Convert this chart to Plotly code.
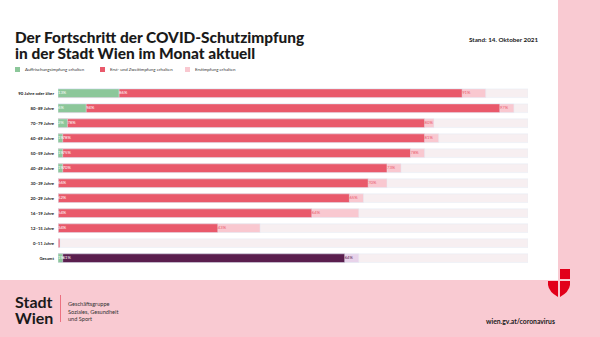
import plotly.graph_objects as go

categories = ["90 Jahre oder älter", "80–89 Jahre", "70–79 Jahre", "60–69 Jahre", "50–59 Jahre",
              "40–49 Jahre", "30–39 Jahre", "20–29 Jahre", "16–19 Jahre", "12–15 Jahre",
              "0–11 Jahre", "Gesamt"]
booster = [13, 6, 2, 1, 1, 1, 0, 0, 0, 0, 0, 1]
full = [86, 94, 78, 78, 75, 70, 66, 62, 54, 34, 0.4, 61]
first = [91, 97, 80, 81, 78, 73, 70, 65, 64, 43, 0.4, 64]
track = [100] * len(categories)

W, H = 600, 337
def px(x): return x / W
def py(y): return 1 - y / H

GREEN = "#8cc79a"
RED = "#e9596b"
PINK = "#f9c8d0"
TRACK = "#f7eff1"
PURPLE = "#5a1e4e"
LPURPLE = "#e8d3ea"
BAND = "#f9cad2"

is_total = [c == "Gesamt" for c in categories]

fig = go.Figure()
bw = 0.58
fig.add_bar(y=categories, x=track, orientation="h", marker_color=TRACK, width=bw,
            hoverinfo="skip", showlegend=False)
fig.add_bar(y=categories, x=first, orientation="h",
            marker_color=[LPURPLE if t else PINK for t in is_total], width=bw, showlegend=False)
fig.add_bar(y=categories, x=full, orientation="h",
            marker_color=[PURPLE if t else RED for t in is_total], width=bw, showlegend=False)
fig.add_bar(y=categories, x=booster, orientation="h", marker_color=GREEN, width=bw, showlegend=False)

lab_font = dict(family="Lato", size=4.2, color="white")
gy = [c for c, b in zip(categories, booster) if b > 0]
fig.add_scatter(y=gy, x=[0] * len(gy), mode="text", text=[f"{b}%" for b in booster if b > 0],
                textposition="middle right", textfont=lab_font, showlegend=False, cliponaxis=False)
fy = [c for c, f in zip(categories, full) if f >= 1]
fx = [b for b, f in zip(booster, full) if f >= 1]
fig.add_scatter(y=fy, x=fx, mode="text", text=[f"{f}%" for f in full if f >= 1],
                textposition="middle right", textfont=lab_font, showlegend=False, cliponaxis=False)
ey = [c for c, f in zip(categories, full) if f >= 1]
ex = [f for f in full if f >= 1]
et = [f"{v}%" for v, f in zip(first, full) if f >= 1]
ec = [PURPLE if c == "Gesamt" else RED for c in ey]
fig.add_scatter(y=ey, x=ex, mode="text", text=et, textposition="middle right",
                textfont=dict(family="Lato", size=4.2, color=ec), showlegend=False, cliponaxis=False)

shapes = [
    dict(type="rect", xref="paper", yref="paper", x0=px(558), x1=1, y0=py(280), y1=1,
         fillcolor=BAND, line_width=0, layer="below"),
    dict(type="rect", xref="paper", yref="paper", x0=0, x1=1, y0=0, y1=py(280),
         fillcolor=BAND, line_width=0, layer="below"),
    dict(type="line", xref="paper", yref="paper", x0=px(60.5), x1=px(60.5), y0=py(295), y1=py(322),
         line=dict(color="#e9596b", width=0.8)),
    dict(type="rect", xref="paper", yref="paper", x0=px(560), x1=px(570), y0=py(279), y1=py(269),
         fillcolor="#e2001a", line_width=0),
    dict(type="path", xref="paper", yref="paper",
         path=f"M {px(548)},{py(281)} L {px(558)},{py(281)} L {px(558)},{py(297)} "
              f"Q {px(549)},{py(292)} {px(548)},{py(285)} Z",
         fillcolor="#e2001a", line_width=0),
    dict(type="path", xref="paper", yref="paper",
         path=f"M {px(560)},{py(281)} L {px(570)},{py(281)} L {px(570)},{py(285)} "
              f"Q {px(569)},{py(292)} {px(560)},{py(297)} Z",
         fillcolor="#e2001a", line_width=0),
]
for x0, c in [(15, GREEN), (100, RED), (185, PINK)]:
    shapes.append(dict(type="rect", xref="paper", yref="paper", x0=px(x0), x1=px(x0 + 5),
                       y0=py(72), y1=py(67), fillcolor=c, line_width=0))

def A(x, y, text, size, weight=400, xanchor="left", color="#1a1a1a"):
    return dict(x=px(x), y=py(y), xref="paper", yref="paper", xanchor=xanchor, yanchor="middle",
                showarrow=False, text=text, font=dict(family="Lato", size=size, color=color, weight=weight))

ann = [
    A(13, 36.5, "Der Fortschritt der COVID-Schutzimpfung", 15.4, 900),
    A(13, 52.5, "in der Stadt Wien im Monat aktuell", 15.4, 900),
    A(540, 39, "Stand: 14. Oktober 2021", 6.3, 700, "right"),
    A(23, 69.5, "Auffrischungsimpfung erhalten", 4.4, 400, color="#333"),
    A(108, 69.5, "Erst- und Zweitimpfung erhalten", 4.4, 400, color="#333"),
    A(193, 69.5, "Erstimpfung erhalten", 4.4, 400, color="#333"),
    A(13, 301, "Stadt", 16, 700),
    A(13, 317, "Wien", 16, 700),
    A(66, 303.5, "Geschäftsgruppe", 5.6, 400, color="#333"),
    A(66, 311, "Soziales, Gesundheit", 5.6, 400, color="#333"),
    A(66, 318.5, "und Sport", 5.6, 400, color="#333"),
    A(557, 320.5, "wien.gv.at/coronavirus", 6.8, 700, "right"),
]

fig.update_layout(
    width=W, height=H, margin=dict(l=0, r=0, t=0, b=0),
    paper_bgcolor="white", plot_bgcolor="white",
    barmode="overlay", bargap=0.42, showlegend=False,
    shapes=shapes, annotations=ann,
    xaxis=dict(domain=[px(58), px(528)], range=[0, 100], visible=False, fixedrange=True),
    yaxis=dict(domain=[py(267.33), py(84.07)], autorange="reversed", showgrid=False, zeroline=False,
               showline=False, ticks="", ticklabelstandoff=3,
               tickfont=dict(family="Lato", size=4.3, color="#222", weight=700)),
)

fig.write_html("out.html")
